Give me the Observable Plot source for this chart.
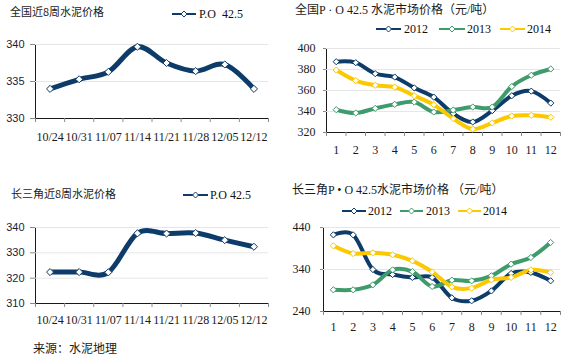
<!DOCTYPE html>
<html><head><meta charset="utf-8">
<script src="https://cdn.jsdelivr.net/npm/d3@7"></script>
<script src="https://cdn.jsdelivr.net/npm/@observablehq/plot@0.6"></script>
<style>
body{margin:0;background:#fff;}
#root{position:relative;width:566px;height:358px;overflow:hidden;background:#fff;}
.abs{position:absolute;white-space:pre;line-height:1;}
.t-cjk{font-family:"Noto Sans CJK SC",sans-serif;font-size:11px;color:#1a1a1a;}
.t-mix{font-family:"Liberation Serif","Noto Sans CJK SC",serif;font-size:12px;color:#1a1a1a;}
.leg{font-family:"Liberation Serif",serif;font-size:12px;color:#111;}
.panel svg g[aria-label^="y-axis"] path,.panel svg g[aria-label^="y-axis"] line,
.panel svg g[aria-label^="x-axis"] path,.panel svg g[aria-label^="x-axis"] line{stroke:#8a8a8a;}
.sans svg g[aria-label^="y-axis"] text{font-family:"Liberation Sans",sans-serif;font-size:11px;fill:#1c1c3a;}
</style>
</head><body><div id="root"></div>
<script>
// ---- data ----
const weeks = ["10/24","10/31","11/07","11/14","11/21","11/28","12/05","12/12"];
const natWeekly = [334.0,335.3,336.3,339.7,337.5,336.4,337.3,334.0];
const yrdWeekly = [322.4,322.4,322.3,337.7,337.6,337.8,335.0,332.4];
const months = ["1","2","3","4","5","6","7","8","9","10","11","12"];
const nat2012 = [387.4,386.5,376,372.8,362.5,353.7,338,330,340.8,355,359.4,348];
const nat2013 = [341.7,338.6,343,346.8,349,339.5,341.4,344.3,344.3,363.8,374.5,380.5];
const nat2014 = [379.5,369.4,365,363.2,355,346.5,333.2,323.2,329.1,335.7,336.4,334.5];
const yrd2012 = [422.5,422.5,340,328,321,321,272.5,265.5,289,330.5,333,313];
const yrd2013 = [291.6,291.6,303.5,339,335,299.5,314.6,313,325,352.7,368.6,404.3];
const yrd2014 = [396.4,378,379.7,375,360.6,334.4,298.7,295.6,315.5,321,339,332.8];
const natWeeklyTicks = [330,335,340];
const natMonthlyTicks = [320,340,360,380,400];
const yrdWeeklyTicks = [310,320,330,340];
const yrdMonthlyTicks = [240,340,440];
const yearNames = ["2012","2013","2014"];
const titles = ["全国近8周水泥价格","全国P · O 42.5 水泥市场价格（元/吨）","长三角近8周水泥价格","长三角P • O 42.5水泥市场价格 （元/吨）"];
const sourceText = "来源：水泥地理";

const NAVY = "#0e3c6a", GREEN = "#3f9b6c", YELLOW = "#fcc800";
const root = document.getElementById("root");

function panel(o){
  const n = o.cats.length;
  const marks = [Plot.ruleY(o.yticks.slice(1), {stroke:"#e6e6e6"})];
  marks.push(Plot.text(o.cats, {x:(d,i)=>i, y:o.ydomain[0], dy:o.labelDy, text:d=>d, fontSize:12, fill:"#1a1a1a"}));
  for (const s of o.series) {
    marks.push(Plot.line(s.values, {x:(d,i)=>i, y:d=>d, curve:"cardinal", stroke:s.color, strokeWidth:o.sw, strokeLinejoin:"round", strokeLinecap:"round"}));
  }
  for (const s of o.series) {
    marks.push(Plot.dot(s.values, {x:(d,i)=>i, y:d=>d, symbol:"diamond2", r:o.r, fill:"white", stroke:s.color, strokeWidth:1}));
  }
  const svg = Plot.plot({
    width:o.w, height:o.h,
    marginLeft:o.mL, marginRight:o.mR, marginTop:o.mT, marginBottom:o.mB,
    style:{background:"transparent", color:"#1a1a1a", fontFamily:"Liberation Serif, serif", fontSize:"12px", overflow:"visible"},
    x:{domain:[-0.5, n-0.5], ticks:d3.range(n+1).map(i=>i-0.5), tickFormat:()=>"", tickSize:4, line:true, label:null},
    y:{domain:o.ydomain, ticks:o.yticks, tickSize:o.ts, tickPadding:o.tp, line:true, label:null},
    marks
  });
  const div = document.createElement("div");
  div.className = "panel abs" + (o.sans ? " sans" : "");
  div.style.left = o.left+"px"; div.style.top = o.top+"px";
  div.appendChild(svg);
  root.appendChild(div);
}

function text(str, cls, left, cy, fs){
  const d = document.createElement("div");
  d.className = "abs "+cls;
  d.textContent = str;
  d.style.left = left+"px";
  d.style.top = (cy - fs/2)+"px";
  d.style.fontSize = fs+"px";
  root.appendChild(d);
}

function legend(x1, x2, y, color, tx, label){
  const ns = "http://www.w3.org/2000/svg";
  const s = document.createElementNS(ns, "svg");
  s.setAttribute("width", x2-x1+4); s.setAttribute("height", 10);
  s.style.position = "absolute"; s.style.left = (x1-2)+"px"; s.style.top = (y-5)+"px";
  const l = document.createElementNS(ns, "line");
  l.setAttribute("x1",2); l.setAttribute("x2",x2-x1+2); l.setAttribute("y1",5); l.setAttribute("y2",5);
  l.setAttribute("stroke",color); l.setAttribute("stroke-width",2);
  s.appendChild(l);
  const c = (x2-x1)/2+2;
  const p = document.createElementNS(ns, "path");
  p.setAttribute("d", `M${c},2 L${c+3},5 L${c},8 L${c-3},5 Z`);
  p.setAttribute("fill","white"); p.setAttribute("stroke",color); p.setAttribute("stroke-width",1);
  s.appendChild(p);
  root.appendChild(s);
  text(label, "leg", tx, y, 12);
}

panel({left:0, top:0, w:283, h:160, mL:35, mR:15, mT:44, mB:42, ydomain:[330,340], yticks:natWeeklyTicks, ts:5, tp:6, sans:true,
  cats:weeks, labelDy:19, sw:5, r:3.2, series:[{values:natWeekly, color:NAVY}]});
panel({left:283, top:0, w:283, h:160, mL:43, mR:6, mT:48, mB:28, ydomain:[320,400], yticks:natMonthlyTicks, ts:3, tp:8,
  cats:months, labelDy:18, sw:4, r:2.8, series:[{values:nat2012,color:NAVY},{values:nat2013,color:GREEN},{values:nat2014,color:YELLOW}]});
panel({left:0, top:170, w:283, h:170, mL:35, mR:15, mT:57, mB:37, ydomain:[310,340], yticks:yrdWeeklyTicks, ts:5, tp:6, sans:true,
  cats:weeks, labelDy:17, sw:5, r:3.2, series:[{values:yrdWeekly, color:NAVY}]});
panel({left:283, top:170, w:283, h:170, mL:40, mR:6, mT:57, mB:29, ydomain:[240,440], yticks:yrdMonthlyTicks, ts:3, tp:10,
  cats:months, labelDy:16, sw:4, r:2.8, series:[{values:yrd2012,color:NAVY},{values:yrd2013,color:GREEN},{values:yrd2014,color:YELLOW}]});

text(titles[0], "t-cjk", 10, 11, 11);
text(titles[1], "t-mix", 295, 10, 12);
text(titles[2], "t-cjk", 11, 193, 11);
text(titles[3], "t-mix", 292, 190, 12);
text(sourceText, "t-cjk", 33, 348, 12);

legend(172, 196, 14, NAVY, 199, "P.O  42.5");
const colors = [NAVY, GREEN, YELLOW];
[[376,401,404],[439,465,467],[500,525,527]].forEach((e,i)=>legend(e[0],e[1],29,colors[i],e[2],yearNames[i]));
legend(183, 208, 195, NAVY, 210, "P.O 42.5");
[[342,366,368],[400,423,426],[458,481,483]].forEach((e,i)=>legend(e[0],e[1],211,colors[i],e[2],yearNames[i]));
</script>
</body></html>
